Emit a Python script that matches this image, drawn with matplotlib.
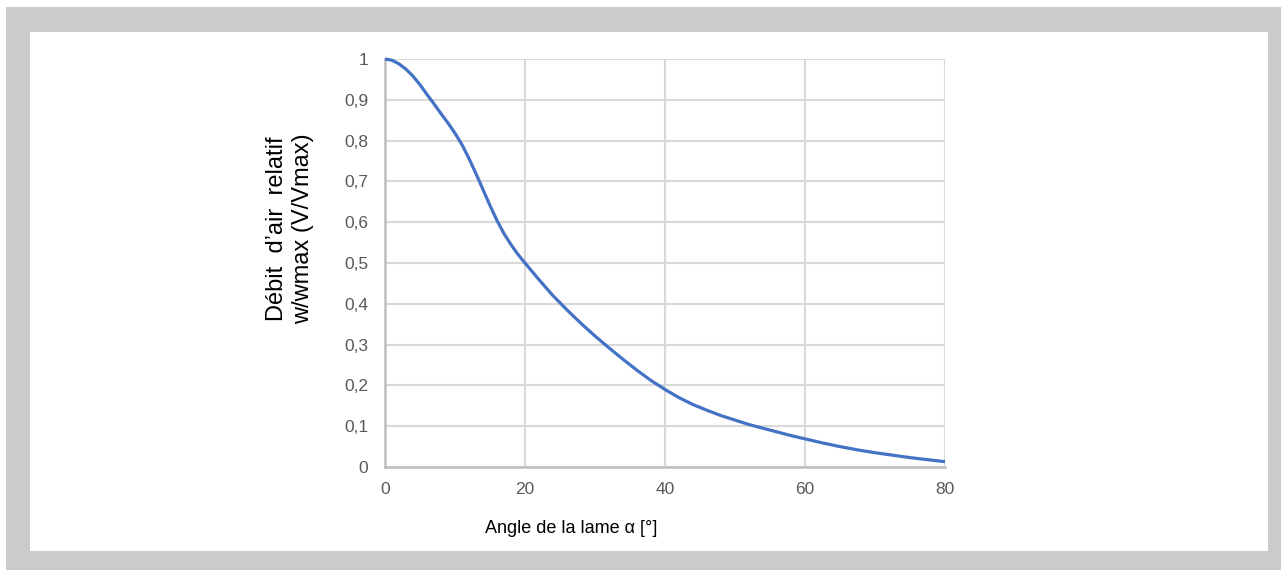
import matplotlib
matplotlib.use('Agg')
import matplotlib.pyplot as plt
from matplotlib.patches import Rectangle

# Debit relatif en fonction de l'angle de la lame
angle = [0, 1, 2, 3, 4, 5, 6, 7, 8, 9, 10, 11, 12, 13, 14, 15, 16, 17, 18, 19, 20,
         22, 24, 26, 28, 30, 32, 34, 36, 38, 40, 42, 44, 46, 48, 50, 52, 54, 56, 58, 60,
         62.5, 65, 67.5, 70, 72.5, 75, 77.5, 80]
debit = [1.0, 0.997, 0.988, 0.975, 0.958, 0.937, 0.913, 0.89, 0.866, 0.843, 0.818,
         0.79, 0.756, 0.719, 0.68, 0.641, 0.604, 0.572, 0.545, 0.521, 0.50,
         0.459, 0.42, 0.385, 0.352, 0.321, 0.292, 0.264, 0.237, 0.212, 0.19,
         0.17, 0.153, 0.139, 0.126, 0.115, 0.104, 0.095, 0.086, 0.077, 0.069,
         0.059, 0.05, 0.042, 0.035, 0.029, 0.023, 0.018, 0.013]

x_ticks = [0, 20, 40, 60, 80]
y_ticks = [0, 0.1, 0.2, 0.3, 0.4, 0.5, 0.6, 0.7, 0.8, 0.9, 1.0]
y_ticklabels = ['0', '0,1', '0,2', '0,3', '0,4', '0,5', '0,6', '0,7', '0,8', '0,9', '1']

W, H = 1281, 570
regular = ['Liberation Sans', 'DejaVu Sans']

fig = plt.figure(figsize=(W / 100, H / 100), dpi=100)
fig.patch.set_facecolor('white')

# cadre gris + zone blanche
fig.patches.append(Rectangle((6 / W, 0), 1 - 6 / W, 1 - 7 / H,
                             transform=fig.transFigure, facecolor='#cbcbcb',
                             edgecolor='none', zorder=0))
fig.patches.append(Rectangle((30 / W, 1 - 551 / H), (1268 - 30) / W, (551 - 32) / H,
                             transform=fig.transFigure, facecolor='white',
                             edgecolor='none', zorder=1))

ax = fig.add_axes([385 / W, 1 - 467 / H, (945 - 385) / W, (467 - 59) / H])
ax.set_zorder(5)
ax.set_facecolor('none')
ax.plot(angle, debit, color='#4472c4', lw=2.3, solid_capstyle='butt',
        solid_joinstyle='round', clip_on=False, zorder=3)

ax.set_xlim(0, 80)
ax.set_ylim(0, 1)
ax.set_xticks(x_ticks)
ax.set_xticklabels([str(v) for v in x_ticks])
ax.set_yticks(y_ticks)
ax.set_yticklabels(y_ticklabels)
ax.grid(True, color='#d9d9d9', lw=1.5)
ax.set_axisbelow(True)

for s in ['top', 'right']:
    ax.spines[s].set_visible(False)
for s in ['left', 'bottom']:
    ax.spines[s].set_color('#bfbfbf')
    ax.spines[s].set_linewidth(1.8)

ax.tick_params(axis='both', length=0, colors='#595959', labelsize=12.5)
ax.tick_params(axis='y', pad=12)
ax.tick_params(axis='x', pad=11)
for lab in ax.get_xticklabels() + ax.get_yticklabels():
    lab.set_family(regular)

fig.text(571 / W, 1 - 533 / H, 'Angle de la lame α [°]', ha='center', va='baseline',
         fontsize=13, family=regular, color='black', zorder=6)
fig.text(290 / W, 1 - 229 / H, 'Débit  d’air  relatif\nw/wmax (V/Vmax)', ha='center',
         va='center', rotation=90, multialignment='center', linespacing=1.25,
         fontsize=17, family=regular, color='black', zorder=6)

fig.savefig('out.png', dpi=100)
